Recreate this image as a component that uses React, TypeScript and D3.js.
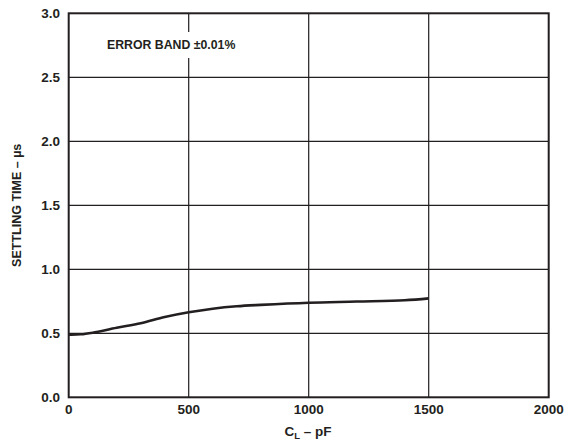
import React from "react";
import * as d3 from "d3";

const capValues = [0, 50, 100, 200, 300, 400, 500, 600, 700, 800, 1000, 1200, 1400, 1500];
const settlingValues = [0.49, 0.492, 0.505, 0.543, 0.578, 0.627, 0.664, 0.692, 0.711, 0.722, 0.739, 0.748, 0.758, 0.773];
const xTicks = [0, 500, 1000, 1500, 2000];
const yTicks = [0, 0.5, 1.0, 1.5, 2.0, 2.5, 3.0];

export default function App() {
  const W = 574, H = 445;
  const x = d3.scaleLinear().domain([0, 2000]).range([68.7, 548.7]);
  const y = d3.scaleLinear().domain([0, 3]).range([397.3, 13.3]);
  const line = d3.line<number>()
    .x((_, i) => x(capValues[i]))
    .y((d) => y(d))
    .curve(d3.curveCatmullRom.alpha(0.5));
  const ink = "#231f20";
  const font = "'Liberation Sans', Arial, sans-serif";
  return (
    <svg width={W} height={H} style={{ position: "absolute", left: 0, top: 0 }}>
      <rect width={W} height={H} fill="#fff" />
      {xTicks.slice(1, -1).map((t) => (
        <line key={"gx" + t} x1={x(t)} x2={x(t)} y1={y(3)} y2={y(0)} stroke={ink} strokeWidth={1.2} />
      ))}
      {yTicks.slice(1, -1).map((t) => (
        <line key={"gy" + t} x1={x(0)} x2={x(2000)} y1={y(t)} y2={y(t)} stroke={ink} strokeWidth={1.2} />
      ))}
      <rect x={100} y={32} width={138} height={26} fill="#fff" />
      <text x={107} y={49} fontFamily={font} fontWeight="bold" fontSize={12.3} fill={ink}>ERROR BAND ±0.01%</text>
      <rect x={x(0)} y={y(3)} width={x(2000) - x(0)} height={y(0) - y(3)} fill="none" stroke={ink} strokeWidth={2} />
      <path d={line(settlingValues) || ""} fill="none" stroke={ink} strokeWidth={2.6} />
      {xTicks.map((t) => (
        <text key={"tx" + t} x={x(t)} y={414} textAnchor="middle" fontFamily={font} fontWeight="bold" fontSize={13.5} fill={ink}>{t}</text>
      ))}
      {yTicks.map((t) => (
        <text key={"ty" + t} x={60} y={y(t) + 4.5} textAnchor="end" fontFamily={font} fontWeight="bold" fontSize={13.5} fill={ink}>{t.toFixed(1)}</text>
      ))}
      <text x={308} y={436} textAnchor="middle" fontFamily={font} fontWeight="bold" fontSize={13.5} fill={ink}>
        C<tspan fontSize={9.5} dy={3}>L</tspan><tspan dy={-3}> – pF</tspan>
      </text>
      <text transform={`translate(21,${y(1.5)}) rotate(-90)`} textAnchor="middle" fontFamily={font} fontWeight="bold" fontSize={12.5} fill={ink}>SETTLING TIME – µs</text>
    </svg>
  );
}
